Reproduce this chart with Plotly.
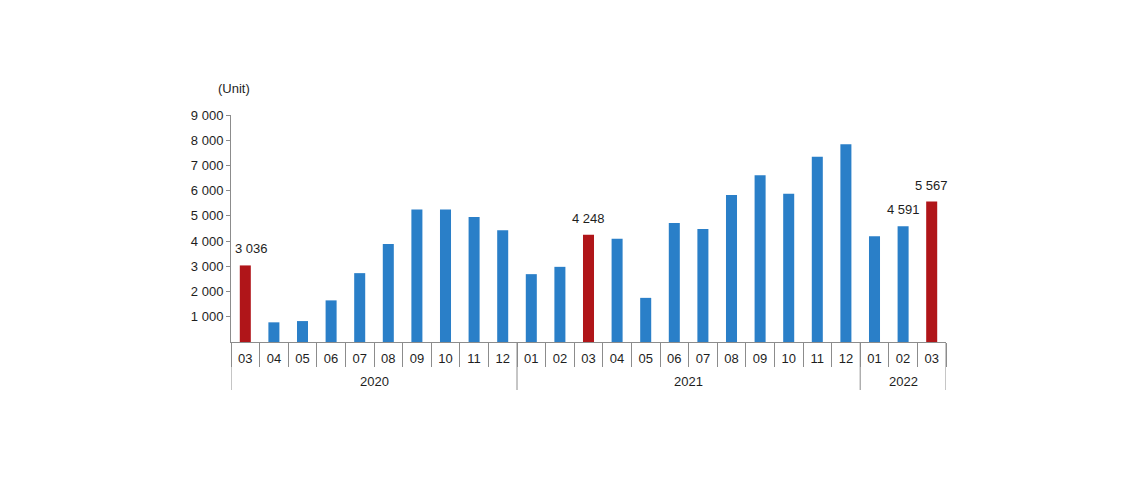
import plotly.graph_objects as go

years = ["2020"] * 10 + ["2021"] * 12 + ["2022"] * 3
months = ["03", "04", "05", "06", "07", "08", "09", "10", "11", "12",
          "01", "02", "03", "04", "05", "06", "07", "08", "09", "10", "11", "12",
          "01", "02", "03"]
values = [3036, 780, 830, 1650, 2730, 3890, 5250, 5250, 4960, 4430,
          2690, 2980, 4248, 4090, 1750, 4720, 4480, 5830, 6610, 5880, 7340, 7840,
          4190, 4591, 5567]
labeled = [True] + [False] * 11 + [True] + [False] * 10 + [True, True]
y_ticks = [1000, 2000, 3000, 4000, 5000, 6000, 7000, 8000, 9000]

BLUE = "#2a7fc8"
RED = "#b01519"
GRAY = "#8c8c8c"
TXT = "#1e1e1e"
FONT = "Liberation Sans, Arial, sans-serif"

pos = list(range(len(months)))
colors = [RED if m == "03" else BLUE for m in months]

# year groups (name, start, end index)
groups = []
for i, y in enumerate(years):
    if not groups or groups[-1][0] != y:
        groups.append([y, i, i])
    else:
        groups[-1][2] = i

fig = go.Figure()
fig.add_trace(go.Bar(
    x=pos, y=values,
    marker=dict(color=colors, line=dict(width=0)),
    hovertext=[f"{y}-{m}" for y, m in zip(years, months)],
))

shapes = []
annotations = [dict(
    text="(Unit)", xref="paper", yref="paper", x=0.0, y=1.0,
    xanchor="center", yanchor="middle", yshift=27, xshift=3,
    showarrow=False, font=dict(family=FONT, size=13, color=TXT),
)]
# value labels
for i, (v, show) in enumerate(zip(values, labeled)):
    if not show:
        continue
    annotations.append(dict(
        text=f"{v:,}".replace(",", " "), xref="x", yref="y", x=pos[i], y=v,
        xanchor="center", yanchor="bottom", yshift=7, xshift=6 if i == 0 else 0,
        showarrow=False, font=dict(family=FONT, size=13, color=TXT),
    ))
# year dividers and labels
bounds = sorted({g[1] - 0.5 for g in groups} | {groups[-1][2] + 0.5})
for b in bounds:
    shapes.append(dict(type="line", xref="x", yref="paper",
                       x0=b, x1=b, y0=0, y1=-48 / 227,
                       line=dict(color=GRAY, width=1)))
for name, s, e in groups:
    annotations.append(dict(
        text=name, xref="x", yref="paper", x=(s + e) / 2, y=0,
        yshift=-39, xanchor="center", yanchor="middle", showarrow=False,
        font=dict(family=FONT, size=13, color=TXT),
    ))

fig.update_layout(
    width=1132, height=492,
    margin=dict(l=223, r=194, t=107, b=158),
    paper_bgcolor="white", plot_bgcolor="white",
    showlegend=False,
    bargap=0.615,
    separators=". ",
    font=dict(family=FONT, size=13, color=TXT),
    shapes=shapes,
    annotations=annotations,
)
fig.update_yaxes(
    range=[0, 9000], tickvals=y_ticks, tickformat=",d",
    showgrid=False, zeroline=False,
    showline=True, linecolor=GRAY, linewidth=1,
    ticks="outside", ticklen=4, tickcolor=GRAY,
    tickfont=dict(family=FONT, size=13, color=TXT),
)
fig.update_xaxes(
    range=[-0.5, len(months) - 0.5],
    tickvals=pos, ticktext=months,
    showgrid=False, zeroline=False,
    showline=True, linecolor=GRAY, linewidth=1,
    ticks="outside", ticklen=4, tickcolor="rgba(0,0,0,0)",
    tickfont=dict(family=FONT, size=13, color=TXT),
    minor=dict(tickvals=[p - 0.5 for p in pos] + [pos[-1] + 0.5],
               ticks="outside", ticklen=24, tickcolor=GRAY, showgrid=False),
)

fig.write_html("out.html")
